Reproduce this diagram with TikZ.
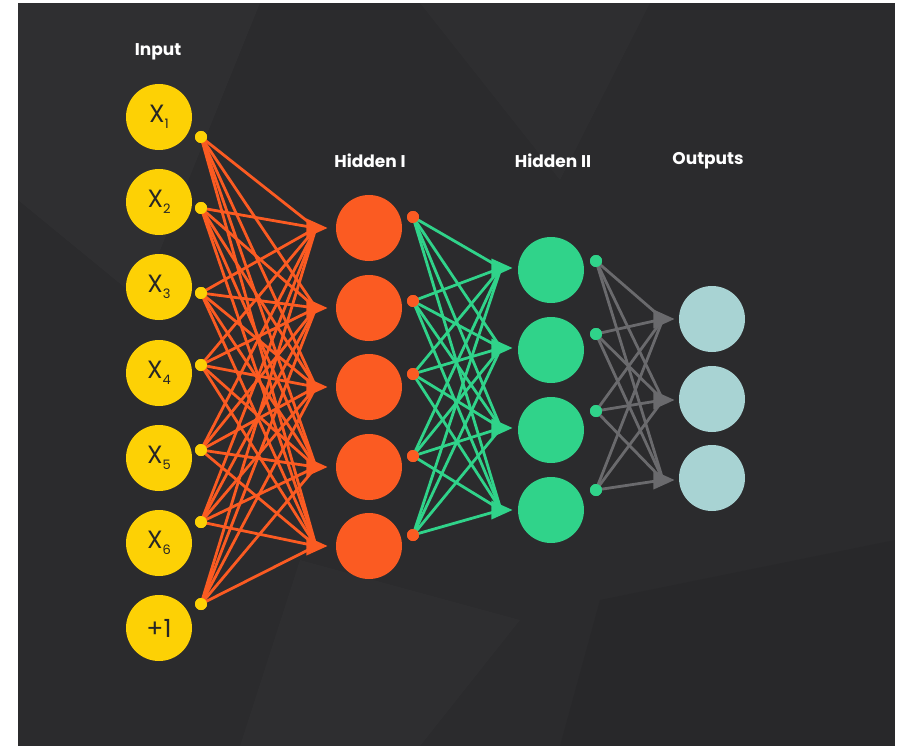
\documentclass[tikz,border=0pt]{standalone}
\usepackage{fontspec}
\setmainfont{Poppins}
\usetikzlibrary{shapes.geometric}
\definecolor{bgdark}{HTML}{2B2B2D}
\definecolor{yel}{HTML}{FDD105}
\definecolor{org}{HTML}{FB5B22}
\definecolor{grn}{HTML}{30D38A}
\definecolor{gry}{HTML}{6A6A6D}
\definecolor{outc}{HTML}{A8D3D3}
\definecolor{txtd}{HTML}{262626}
\tikzset{
  neuron/.style={circle, fill=#1, minimum size=66pt, inner sep=0pt, text=txtd,
    font=\fontsize{25}{25}\selectfont},
  smalldot/.style={circle, fill=#1, minimum size=12pt, inner sep=0pt},
  headtri/.style={isosceles triangle, isosceles triangle stretches, fill=#1,
    minimum height=21pt, minimum width=19pt, inner sep=0pt, anchor=apex},
  conn/.style={draw=#1, line width=2.8pt},
  layerlabel/.style={text=white, font=\fontsize{17}{17}\selectfont\bfseries}
}
\newcommand{\xsub}[1]{X\raisebox{-6pt}{\fontsize{13}{13}\selectfont #1}}
\begin{document}
\begin{tikzpicture}[x=1pt,y=-1pt]
\useasboundingbox (0,0) rectangle (902,746);
\fill[white] (0,0) rectangle (902,746);
\fill[bgdark] (18,3) rectangle (895,746);
% faint background facets
\fill[white, opacity=0.018] (18,3) -- (260,3) -- (140,300) -- (18,200) -- cycle;
\fill[white, opacity=0.015] (420,3) -- (650,3) -- (560,180) -- cycle;
\fill[black, opacity=0.06] (600,600) -- (895,540) -- (895,746) -- (560,746) -- cycle;
\fill[white, opacity=0.015] (300,560) -- (520,620) -- (420,746) -- (240,746) -- cycle;

% labels
\node[layerlabel] (linput) at (158,52) {Input};
\node[layerlabel] (lh1) at (370,161) {Hidden I};
\node[layerlabel] (lh2) at (553,161) {Hidden II};
\node[layerlabel] (lout) at (708,161) {Outputs};

% input layer
\foreach \y/\t [count=\i] in {117/\xsub{1},202/\xsub{2},287/\xsub{3},373/\xsub{4},458/\xsub{5},543/\xsub{6},628/+1}
  \node[neuron=yel] (in\i) at (159,\y) {\t};
\foreach \y [count=\i] in {137,208,293,365,450,522,604}
  \node[smalldot=yel] (din\i) at (201,\y) {};

% hidden I
\foreach \y [count=\i] in {228,308,387,467,546}{
  \node[neuron=org] (ha\i) at (369,\y) {};
  \coordinate (tha\i) at (328,\y);
}
\foreach \y [count=\i] in {217,301,374,456,535}
  \node[smalldot=org] (dha\i) at (413,\y) {};

% hidden II
\foreach \y [count=\i] in {270,350,430,510}
  \node[neuron=grn] (hb\i) at (551,\y) {};
\foreach \y [count=\i] in {268,348,428,510}
  \coordinate (thb\i) at (513,\y);
\foreach \y [count=\i] in {261,334,411,490}
  \node[smalldot=grn] (dhb\i) at (596,\y) {};

% outputs
\foreach \y [count=\i] in {319,399,478}
  \node[neuron=outc] (ou\i) at (712,\y) {};
\foreach \y [count=\i] in {319,400,480}
  \coordinate (tou\i) at (675,\y);

% connections input -> hidden I
\foreach \a in {1,...,7}
  \foreach \b in {1,...,5}
    \draw[conn=org] (din\a.center) -- ([xshift=-12pt]tha\b);
\foreach \b in {1,...,5}
  \node[headtri=org] (aha\b) at (tha\b) {};

% hidden I -> hidden II
\foreach \a in {1,...,5}
  \foreach \b in {1,...,4}
    \draw[conn=grn] (dha\a.center) -- ([xshift=-12pt]thb\b);
\foreach \b in {1,...,4}
  \node[headtri=grn] (ahb\b) at (thb\b) {};

% hidden II -> outputs
\foreach \a in {1,...,4}
  \foreach \b in {1,...,3}
    \draw[conn=gry] (dhb\a.center) -- ([xshift=-12pt]tou\b);
\foreach \b in {1,...,3}
  \node[headtri=gry] (aou\b) at (tou\b) {};

% redraw dots on top
\foreach \i in {1,...,7}
  \fill[yel] (din\i.center) circle (6pt);
\foreach \i in {1,...,5}
  \fill[org] (dha\i.center) circle (6pt);
\foreach \i in {1,...,4}
  \fill[grn] (dhb\i.center) circle (6pt);
\end{tikzpicture}
\end{document}
